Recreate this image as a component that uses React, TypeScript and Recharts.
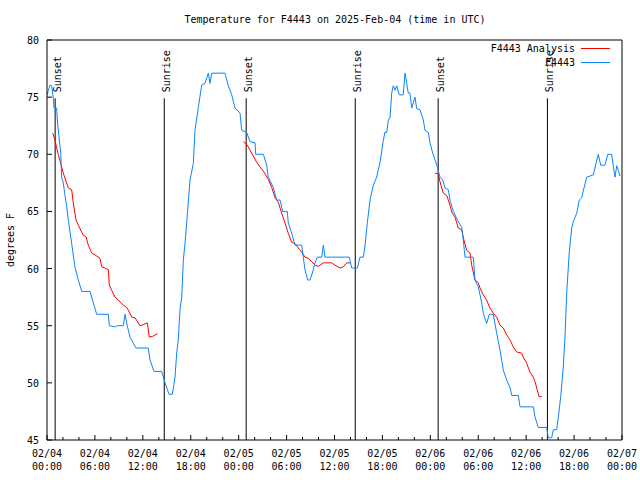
import React from "react"
import { LineChart, Line, XAxis, YAxis, ReferenceLine } from "recharts"

// hours since 02/04 00:00 UTC
const obsHours = [
  0.04, 0.16, 0.38, 0.59, 0.79, 0.88, 1.21, 1.29, 1.54, 1.72, 1.84, 2.04, 2.25, 2.47, 2.67, 3.09, 3.51, 3.92, 4.35, 5.38,
  6.22, 7.68, 7.8, 8.6, 8.75, 9.55, 9.77, 10.05, 10.39, 11.14, 12.68, 12.9, 13.4, 14.36, 14.78, 15.28, 15.69, 16.03,
  16.24, 16.44, 16.65, 16.87, 17.07, 17.28, 17.49, 17.91, 18.32, 18.53, 18.95, 19.37, 19.78, 20.2, 20.41, 20.62, 22.29,
  22.7, 23.13, 23.54, 24.17, 24.38, 25.01, 25.42, 26.05, 26.13, 27.09, 27.51, 27.71, 28.34, 28.76, 29.18, 29.51, 30.09,
  30.21, 30.64, 31.05, 31.89, 32.09, 32.31, 32.64, 32.93, 33.27, 33.56, 33.85, 34.4, 34.6, 34.81, 37.85, 38.15, 38.86,
  39.19, 39.61, 39.82, 40.11, 40.45, 40.86, 41.28, 41.7, 42.11, 42.32, 42.54, 42.74, 42.95, 43.16, 43.36, 43.58, 43.79,
  44.11, 44.61, 44.83, 45.04, 45.24, 45.45, 45.67, 45.87, 46.08, 46.29, 46.71, 47.12, 47.33, 47.75, 47.96, 48.3, 48.59,
  48.87, 49.21, 49.55, 49.84, 50.25, 50.46, 50.88, 51.5, 51.93, 52.13, 52.34, 53.38, 53.59, 54.01, 54.43, 54.63, 55.05,
  55.38, 55.88, 56.31, 56.72, 57.14, 57.56, 57.98, 58.19, 59.02, 59.23, 60.9, 61.11, 61.52, 62.57, 62.77, 63.2, 63.4,
  63.82, 64.03, 64.33, 64.65, 64.86, 65.08, 65.4, 65.7, 65.9, 66.33, 66.65, 66.95, 67.24, 67.58, 68.41, 68.75, 69.03,
  69.33, 69.87, 70.21, 70.71, 70.92, 71.13, 71.34, 71.54, 71.75,
]
const obsTemps = [
  75.2, 75.6, 76.05, 76.0, 74.9, 74.05, 74.05, 73, 71.25, 70.1, 68, 67.5, 66.4, 65.4, 64.25, 62.2, 60.1, 59, 58, 58,
  56, 56, 55, 54.9, 55, 55, 56, 55, 54, 53.05, 53.05, 52, 51, 51, 50, 49, 49, 50.5,
  52.6, 53.75, 56.4, 57.5, 60.75, 62.2, 64, 67.75, 69.2, 72.1, 74.1, 76.05, 76.2, 77.1, 76.2, 77.1, 77.1,
  76, 75.2, 74.05, 73.6, 72.1, 71.9, 71.1, 71, 70, 70, 69.05, 68, 67.1, 66, 66, 65, 65,
  64, 63.1, 62.05, 62.05, 61, 59.9, 59, 59, 59.7, 60.5, 61, 61, 62.05, 61, 61, 60.05, 60.05,
  61, 61, 62, 64, 66, 67.3, 68, 69.3, 71.2, 71.95, 71.9, 73, 73.2, 75.35, 76, 75.6, 76,
  75.2, 75.2, 77.1, 76.2, 75.35, 75.35, 74.05, 74.5, 75, 74, 73.9, 73, 72.1, 71.9, 71, 70.1, 69.5,
  68.9, 68, 67.75, 67.05, 66.9, 66, 65, 64.1, 63.6, 62.5, 61, 61, 59, 58.4, 57, 56.1, 55.2,
  56, 56, 54.35, 52.9, 51.1, 50.25, 49.6, 48.9, 48.9, 47.9, 47.9, 47, 46.1, 46.1, 45.2, 45.2, 45.9,
  45.9, 47, 48.8, 51.4, 54, 57.95, 61.45, 63.55, 64.1, 64.85, 66, 66.2, 67.05, 68, 68.2, 69.2, 70,
  69.05, 69.05, 70, 70, 68.9, 68, 69, 68.6, 68.1,
]

// analysis: null marks a gap between the three nightly runs
const anaHours = [
  0.71, 1.0, 1.21, 1.41, 1.72, 2.04, 2.67, 3.09, 3.29, 3.63, 3.92, 4.13, 4.55, 4.88, 5.17, 5.6, 6.01, 6.64, 6.85, 7.26,
  7.68, 7.8, 8.1, 8.51, 8.93, 9.55, 9.98, 10.31, 10.61, 11.02, 11.65, 12.06, 12.56, 12.81, 13.31, 13.81,
  19,
  24.58, 25.08, 25.63, 26.26, 26.67, 27.17, 27.71, 28.14, 28.55, 28.96, 29.39, 29.8, 30.21, 30.64, 31.05, 31.47, 31.89,
  32.31, 32.72, 33.15, 33.56, 33.97, 34.6, 35.65, 36.06, 36.69, 37.1, 37.53, 37.94,
  43,
  48.59, 49.0, 49.21, 49.62, 50.05, 50.46, 50.68, 51.09, 51.5, 51.93, 52.13, 52.55, 52.97, 53.18, 53.59, 54.01, 54.22,
  54.63, 55.05, 55.46, 55.88, 56.31, 56.72, 57.14, 57.56, 57.98, 58.39, 58.81, 59.44, 59.64, 60.07, 60.48, 60.9, 61.11,
  61.32, 61.61, 61.95,
]
const anaTemps = [
  71.85, 71.25, 70.55, 70, 69.2, 68.35, 67.05, 66.9, 65.75, 64.25, 63.8, 63.5, 62.9, 62.8, 62.05, 61.35, 61.2, 60.9, 60.15, 60.05,
  59.9, 58.55, 58.1, 57.5, 57.25, 56.8, 56.6, 56.2, 55.75, 55.7, 55, 55.1, 55.25, 54.0, 54.1, 54.3,
  null,
  71.1, 70.8, 70.1, 69.3, 68.9, 68.45, 67.8, 67.1, 66.2, 65.8, 64.85, 64, 63.1, 62.3, 62.2, 61.8, 61.45,
  61, 60.9, 60.6, 60.3, 60.2, 60.5, 60.5, 60.3, 60.05, 60.15, 60.5, 60.5,
  null,
  68.35, 68.3, 67.6, 66.6, 66.4, 65.55, 64.95, 64.5, 63.55, 63.4, 62.7, 61.6, 61.35, 60.3, 59, 58.75, 58.3,
  57.7, 57.25, 56.55, 56.1, 55.75, 55.05, 54.8, 54.2, 53.75, 53.15, 52.7, 52.6, 52.25, 51.7, 50.95, 50.5, 50.1,
  49.55, 48.8, 48.8,
]

const sunHours = [1.02, 14.68, 24.94, 38.6, 48.98, 62.66]
const sunLabels = ["Sunset", "Sunrise", "Sunset", "Sunrise", "Sunset", "Sunrise"]

const xTicks = Array.from({ length: 37 }, (_, i) => i * 2)
const yTicks = [45, 50, 55, 60, 65, 70, 75, 80]

const obsData = obsHours.map((t, i) => ({ t, v: obsTemps[i] }))
const anaData = anaHours.map((t, i) => ({ t, v: anaTemps[i] }))

const FONT = "'DejaVu Sans Mono', monospace"
const BLUE = "#0a84ff"
const RED = "#ff0000"

function fmtDay(t: number) {
  return "02/0" + (4 + Math.floor(t / 24))
}
function fmtHour(t: number) {
  const h = t % 24
  return (h < 10 ? "0" + h : "" + h) + ":00"
}

function BottomTick({ x, y, payload }: any) {
  const t = payload.value
  const major = t % 6 === 0
  return (
    <g>
      <line x1={x} x2={x} y1={y} y2={y - (major ? 5 : 3)} stroke="#000" />
      {major && (
        <text x={x} y={y + 17} textAnchor="middle" fontSize={10} fontFamily={FONT} fill="#000">
          {fmtDay(t)}
        </text>
      )}
      {major && (
        <text x={x} y={y + 30} textAnchor="middle" fontSize={10} fontFamily={FONT} fill="#000">
          {fmtHour(t)}
        </text>
      )}
    </g>
  )
}

function TopTick({ x, y, payload }: any) {
  const major = payload.value % 6 === 0
  return <line x1={x} x2={x} y1={y} y2={y + (major ? 5 : 3)} stroke="#000" />
}

function LeftTick({ x, y, payload }: any) {
  return (
    <g>
      <line x1={x} x2={x + 5} y1={y} y2={y} stroke="#000" />
      <text x={x - 8} y={y + 4} textAnchor="end" fontSize={10} fontFamily={FONT} fill="#000">
        {payload.value}
      </text>
    </g>
  )
}

function RightTick({ x, y }: any) {
  return <line x1={x} x2={x - 5} y1={y} y2={y} stroke="#000" />
}

function SunLabel({ viewBox, text }: any) {
  const x = viewBox.x + 5.5
  const y = viewBox.y - 6
  return (
    <text x={x} y={y} transform={`rotate(-90 ${x} ${y})`} fontSize={10} fontFamily={FONT} fill="#000">
      {text}
    </text>
  )
}

export default function App() {
  return (
    <div style={{ position: "absolute", left: 0, top: 0, width: 640, height: 480, background: "#fff" }}>
      <LineChart width={640} height={480} margin={{ top: 0, right: 0, bottom: 0, left: 0 }}>
        <XAxis
          dataKey="t"
          type="number"
          domain={[0, 72]}
          ticks={xTicks}
          interval={0}
          height={40}
          tickSize={0}
          tickMargin={0}
          tickLine={false}
          axisLine={{ stroke: "#000" }}
          tick={BottomTick}
          allowDataOverflow
        />
        <XAxis
          xAxisId="top"
          orientation="top"
          type="number"
          domain={[0, 72]}
          ticks={xTicks}
          interval={0}
          height={40}
          tickSize={0}
          tickMargin={0}
          tickLine={false}
          axisLine={{ stroke: "#000" }}
          tick={TopTick}
        />
        <YAxis
          type="number"
          domain={[45, 80]}
          ticks={yTicks}
          interval={0}
          width={47}
          tickSize={0}
          tickMargin={0}
          tickLine={false}
          axisLine={{ stroke: "#000" }}
          tick={LeftTick}
          allowDataOverflow
        />
        <YAxis
          yAxisId="r"
          orientation="right"
          type="number"
          domain={[45, 80]}
          ticks={yTicks}
          interval={0}
          width={18}
          tickSize={0}
          tickMargin={0}
          tickLine={false}
          axisLine={{ stroke: "#000" }}
          tick={RightTick}
        />
        {sunHours.map((h, i) => (
          <ReferenceLine
            key={i}
            segment={[
              { x: h, y: 45 },
              { x: h, y: 74.9 },
            ]}
            stroke="#000"
            strokeWidth={1}
            label={<SunLabel text={sunLabels[i]} />}
            ifOverflow="visible"
          />
        ))}
        <Line
          data={anaData}
          dataKey="v"
          type="linear"
          stroke={RED}
          strokeWidth={1}
          dot={false}
          connectNulls={false}
          isAnimationActive={false}
        />
        <Line
          data={obsData}
          dataKey="v"
          type="linear"
          stroke={BLUE}
          strokeWidth={1}
          dot={false}
          isAnimationActive={false}
        />
      </LineChart>
      <svg width={640} height={480} style={{ position: "absolute", left: 0, top: 0, pointerEvents: "none" }}>
        <text x={335} y={23} textAnchor="middle" fontSize={10} fontFamily={FONT} fill="#000">
          Temperature for F4443 on 2025-Feb-04 (time in UTC)
        </text>
        <text x={14} y={240} textAnchor="middle" transform="rotate(-90 14 240)" fontSize={10} fontFamily={FONT} fill="#000">
          degrees F
        </text>
        <text x={575} y={52} textAnchor="end" fontSize={10} fontFamily={FONT} fill="#000">
          F4443 Analysis
        </text>
        <line x1={581} x2={610} y1={48.5} y2={48.5} stroke={RED} />
        <text x={575} y={66} textAnchor="end" fontSize={10} fontFamily={FONT} fill="#000">
          F4443
        </text>
        <line x1={581} x2={610} y1={62.5} y2={62.5} stroke={BLUE} />
      </svg>
    </div>
  )
}
